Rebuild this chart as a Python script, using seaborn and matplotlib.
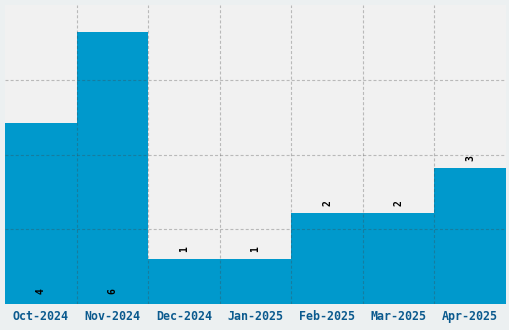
import matplotlib
matplotlib.use("Agg")
import matplotlib.pyplot as plt
import seaborn as sns
import pandas as pd
from matplotlib.ticker import FixedLocator

months = ["Oct-2024", "Nov-2024", "Dec-2024", "Jan-2025", "Feb-2025", "Mar-2025", "Apr-2025"]
counts = [4, 6, 1, 1, 2, 2, 3]

df = pd.DataFrame({"month": months, "count": counts})

sns.set_style("white")
plt.rcParams['font.family'] = ['DejaVu Sans Mono', 'DejaVu Sans']

fig = plt.figure(figsize=(5.1, 3.3), dpi=100, facecolor="#ECF0F1")
ax = fig.add_axes([5 / 510, 26 / 330, 501 / 510, 299 / 330])
ax.set_facecolor("#F1F1F1")

sns.barplot(data=df, x="month", y="count", color="#0099CC", saturation=1,
            width=1.0, ax=ax, edgecolor="none", linewidth=0)

ymax = max(counts) * 1.1
ax.set_xlim(-0.5, len(months) - 0.5)
ax.set_ylim(0, ymax)

ax.yaxis.set_major_locator(FixedLocator([ymax / 4 * i for i in range(1, 4)]))
ax.set_yticklabels([])
ax.tick_params(axis="y", length=0)
ax.xaxis.set_minor_locator(FixedLocator([i + 0.5 for i in range(len(months) - 1)]))
ax.tick_params(axis="x", which="both", length=0, pad=4, labelsize=8.4,
               labelcolor="#0B5A8E")
for lab in ax.get_xticklabels():
    lab.set_fontweight("bold")

ax.set_axisbelow(False)
ax.grid(False)
gkw = dict(color="#444444", alpha=0.32, linestyle=(0, (2.7, 1.9)), linewidth=0.8)
ax.grid(True, axis="y", which="major", **gkw)
ax.grid(True, axis="x", which="minor", **gkw)

for s in ax.spines.values():
    s.set_visible(False)
ax.set_xlabel("")
ax.set_ylabel("")

for i, v in enumerate(counts):
    if v >= 4:
        ax.annotate(str(v), (i, 0), xytext=(0, 7), textcoords="offset points",
                    rotation=90, ha="center", va="bottom", fontsize=7,
                    fontweight="bold", color="black")
    else:
        ax.annotate(str(v), (i, v), xytext=(0, 5), textcoords="offset points",
                    rotation=90, ha="center", va="bottom", fontsize=7,
                    fontweight="bold", color="black")

fig.savefig("out.png", dpi=100, facecolor=fig.get_facecolor())
